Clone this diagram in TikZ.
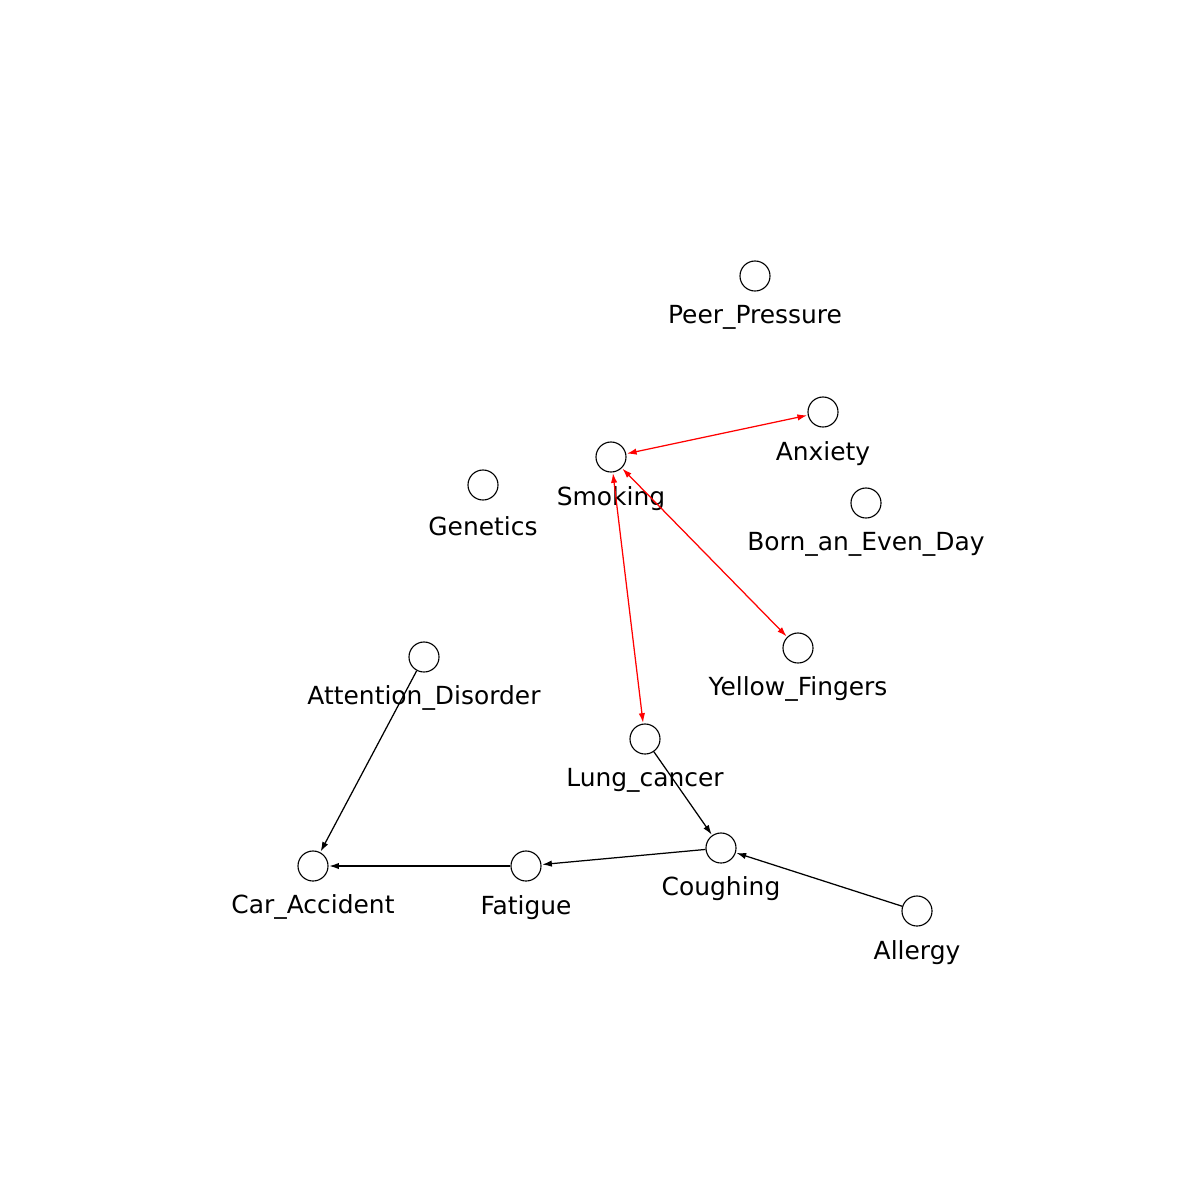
\documentclass[tikz,border=0pt]{standalone}
\usepackage{fontspec}
\setmainfont{DejaVu Sans}
\usetikzlibrary{arrows.meta}
\begin{document}
\begin{tikzpicture}[x=0.01in,y=-0.01in,
  vtx/.style={circle,draw=black,line width=0.8pt,minimum size=0.3in,inner sep=0pt,fill=white},
  lbl/.style={font=\fontsize{18}{21}\selectfont,inner sep=0pt,anchor=center},
  tip/.style={-{Latex[length=7pt,width=4.6pt]},line width=0.9pt,shorten >=0.5pt},
  both/.style={{Latex[length=7pt,width=4.6pt]}-{Latex[length=7pt,width=4.6pt]},line width=0.9pt,draw=red,shorten >=0.5pt,shorten <=0.5pt}]
\useasboundingbox (0,0) rectangle (1200,1200);
\fill[white] (0,0) rectangle (1200,1200);
\node[vtx] (pp) at (755,276) {};
\node[vtx] (an) at (823,412) {};
\node[vtx] (sm) at (611,457) {};
\node[vtx] (ge) at (483,485) {};
\node[vtx] (bd) at (866,503) {};
\node[vtx] (yf) at (798,648) {};
\node[vtx] (ad) at (424,657) {};
\node[vtx] (lc) at (645,739) {};
\node[vtx] (co) at (721,848) {};
\node[vtx] (ca) at (313,866) {};
\node[vtx] (fa) at (526,866) {};
\node[vtx] (al) at (917,911) {};
\node[lbl] (ppl) at (755,317) {Peer\_Pressure};
\node[lbl] (anl) at (823,454) {Anxiety};
\node[lbl] (sml) at (611,499) {Smoking};
\node[lbl] (gel) at (483,526) {Genetics};
\node[lbl] (bdl) at (866,544) {Born\_an\_Even\_Day};
\node[lbl] (yfl) at (798,689) {Yellow\_Fingers};
\node[lbl] (adl) at (424,698) {Attention\_Disorder};
\node[lbl] (lcl) at (645,780) {Lung\_cancer};
\node[lbl] (col) at (721,889) {Coughing};
\node[lbl] (cal) at (313,907) {Car\_Accident};
\node[lbl] (fal) at (526,908) {Fatigue};
\node[lbl] (all) at (917,953) {Allergy};
\draw[both] (sm) -- (an);
\draw[both] (sm) -- (yf);
\draw[both] (sm) -- (lc);
\draw[tip] (lc) -- (co);
\draw[tip] (al) -- (co);
\draw[tip] (co) -- (fa);
\draw[tip] (fa) -- (ca);
\draw[tip] (ad) -- (ca);
\end{tikzpicture}
\end{document}
